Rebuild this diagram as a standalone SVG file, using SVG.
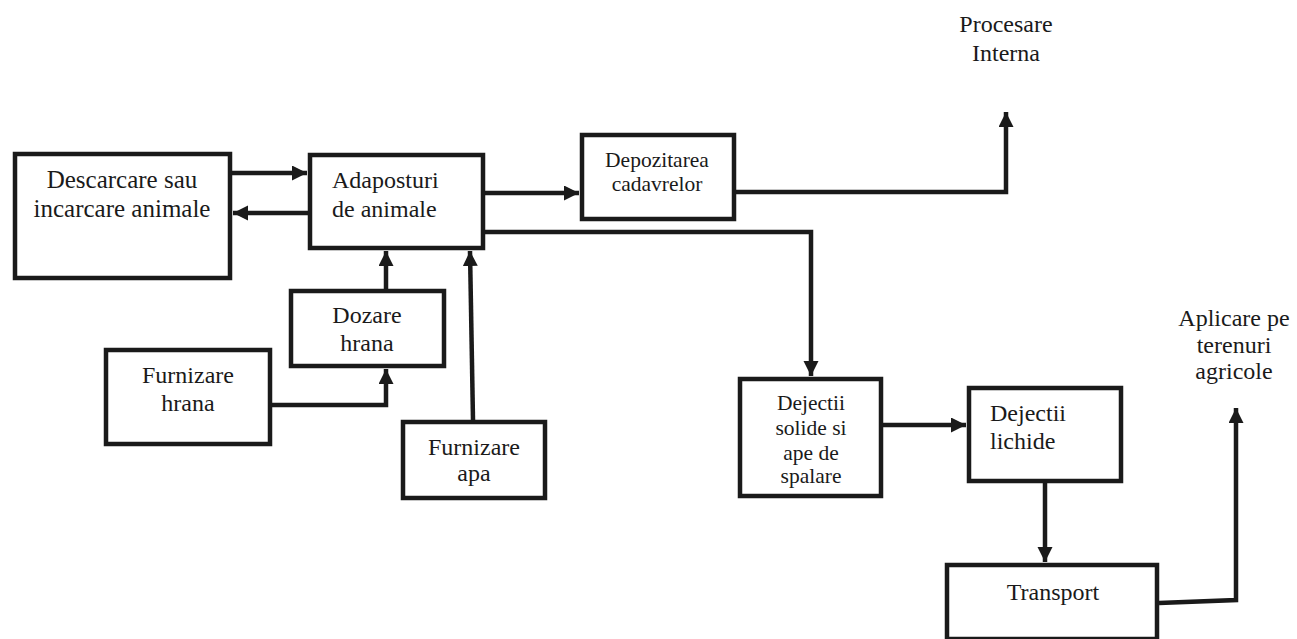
<svg xmlns="http://www.w3.org/2000/svg" width="1297" height="639" viewBox="0 0 1297 639">
<style>
.box{fill:#fff;stroke:#1a1a1a;stroke-width:4.5}
.con{fill:none;stroke:#1a1a1a;stroke-width:4.5}
.arr{marker-end:url(#ah)}
text{font-family:'Liberation Serif','Times New Roman','DejaVu Serif',serif;fill:#1a1a1a;font-size:24px}
.c{text-anchor:middle}
.s{font-size:21.5px}
.l{font-size:25px}
</style>
<defs>
<marker id="ah" markerUnits="userSpaceOnUse" markerWidth="16" markerHeight="16" refX="15" refY="7.5" orient="auto">
<path d="M0,0 L15,7.5 L0,15 z" fill="#1a1a1a"/>
</marker>
</defs>
<rect width="1297" height="639" fill="#fff"/>
<g id="connectors">
<path class="con arr" d="M232,173 H307"/>
<path class="con arr" d="M308,213 H233"/>
<path class="con arr" d="M485,193 H579"/>
<path class="con arr" d="M736,192 H1006 V112"/>
<path class="con arr" d="M485,232 H811 V376"/>
<path class="con arr" d="M386,289 V251"/>
<path class="con arr" d="M272,405 H386 V369"/>
<path class="con arr" d="M473,420 L470,251"/>
<path class="con arr" d="M883,425 H966"/>
<path class="con arr" d="M1045,483 V562"/>
<path class="con arr" d="M1159,603 L1236,600 V408"/>
</g>
<g id="n-descarcare">
<rect class="box" x="15" y="154" width="215" height="124"/>
<text class="c l" x="122" y="188" font-family="Liberation Serif, serif">Descarcare sau</text>
<text class="c l" x="122" y="217" font-family="Liberation Serif, serif">incarcare animale</text>
</g>
<g id="n-adaposturi">
<rect class="box" x="310" y="155" width="173" height="93"/>
<text x="332" y="188">Adaposturi</text>
<text x="332" y="217">de animale</text>
</g>
<g id="n-depozitarea">
<rect class="box" x="582" y="135" width="152" height="84"/>
<text class="c s" x="657" y="167">Depozitarea</text>
<text class="c s" x="657" y="191">cadavrelor</text>
</g>
<g id="n-procesare">
<text class="c" x="1006" y="32">Procesare</text>
<text class="c" x="1006" y="61">Interna</text>
</g>
<g id="n-dozare">
<rect class="box" x="291" y="291" width="153" height="75"/>
<text class="c" x="367" y="323">Dozare</text>
<text class="c" x="367" y="351">hrana</text>
</g>
<g id="n-furnizare-hrana">
<rect class="box" x="106" y="350" width="164" height="94"/>
<text class="c" x="188" y="383">Furnizare</text>
<text class="c" x="188" y="411">hrana</text>
</g>
<g id="n-furnizare-apa">
<rect class="box" x="403" y="422" width="142" height="76"/>
<text class="c" x="474" y="455">Furnizare</text>
<text class="c" x="474" y="481">apa</text>
</g>
<g id="n-dejectii-solide">
<rect class="box" x="740" y="379" width="141" height="117"/>
<text class="c s" x="811" y="410">Dejectii</text>
<text class="c s" x="811" y="435">solide si</text>
<text class="c s" x="811" y="460">ape de</text>
<text class="c s" x="811" y="483">spalare</text>
</g>
<g id="n-dejectii-lichide">
<rect class="box" x="969" y="388" width="152" height="93"/>
<text x="990" y="421">Dejectii</text>
<text x="990" y="449">lichide</text>
</g>
<g id="n-transport">
<rect class="box" x="947" y="565" width="210" height="74"/>
<text class="c" x="1053" y="600">Transport</text>
</g>
<g id="n-aplicare">
<text class="c" x="1234" y="326">Aplicare pe</text>
<text class="c" x="1234" y="353">terenuri</text>
<text class="c" x="1234" y="379">agricole</text>
</g>
</svg>
